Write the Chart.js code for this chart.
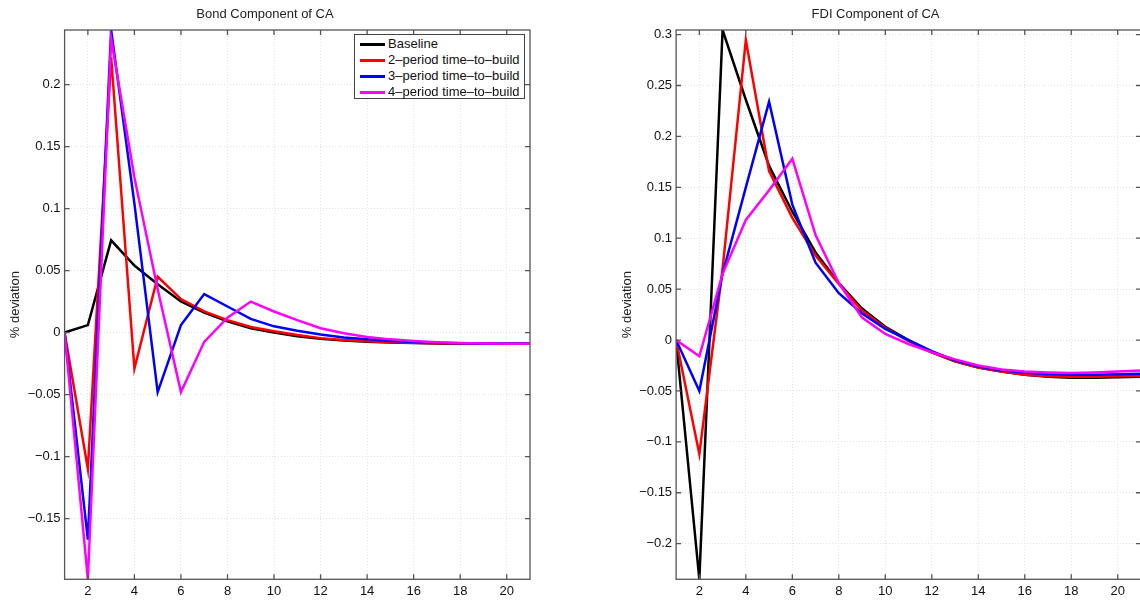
<!DOCTYPE html>
<html>
<head>
<meta charset="utf-8">
<script src="https://cdn.jsdelivr.net/npm/chart.js@4.4.1/dist/chart.umd.min.js"></script>
<style>
    body { margin: 0; width: 1140px; height: 603px; overflow: hidden; background: #fff; position: relative; font-family: "Liberation Sans", Arial, sans-serif; }
    .box { position: absolute; top: 0; height: 603px; }
    #bondBox { left: 0; width: 540px; }
    #fdiBox { left: 610px; width: 541px; }
    #legend { position: absolute; left: 354px; top: 34px; width: 171px; height: 65px; border: 1px solid #444; background: #fff; padding-top: 1px; box-sizing: border-box; }
    .row { position: relative; height: 16px; font-size: 13px; line-height: 16px; color: #111; }
    .row span.swatch { position: absolute; left: 5px; top: 7px; width: 25px; height: 2.5px; }
    .row span.label { position: absolute; left: 33px; top: 0; white-space: nowrap; }
</style>
</head>
<body>
<div class="box" id="bondBox"><canvas id="bondChart"></canvas></div>
<div class="box" id="fdiBox"><canvas id="fdiChart"></canvas></div>
<div id="legend"></div>
<script>
// periods after the shock
const periods = [1, 2, 3, 4, 5, 6, 7, 8, 9, 10, 11, 12, 13, 14, 15, 16, 17, 18, 19, 20, 21];
const xTicks = [2, 4, 6, 8, 10, 12, 14, 16, 18, 20];

const seriesNames = ['Baseline', '2\u2013period time\u2013to\u2013build', '3\u2013period time\u2013to\u2013build', '4\u2013period time\u2013to\u2013build'];
const seriesColors = ['#000000', '#ff0000', '#0000ff', '#ff00ff'];

// Bond component of CA
const bondBaseline = [0, 0.006, 0.0744, 0.054, 0.039, 0.025, 0.016, 0.009, 0.0035, 0.000, -0.003, -0.005, -0.0065, -0.0075, -0.008, -0.0085, -0.0088, -0.009, -0.009, -0.009, -0.009];
const bondTtb2 = [0, -0.110, 0.222, -0.029, 0.045, 0.027, 0.017, 0.010, 0.0045, 0.001, -0.002, -0.0045, -0.006, -0.007, -0.0078, -0.0083, -0.0087, -0.009, -0.009, -0.009, -0.009];
const bondTtb3 = [0, -0.167, 0.244, 0.104, -0.048, 0.006, 0.031, 0.021, 0.011, 0.005, 0.0015, -0.0015, -0.004, -0.0055, -0.0068, -0.0077, -0.0083, -0.0087, -0.009, -0.009, -0.009];
const bondTtb4 = [0, -0.199, 0.237, 0.125, 0.035, -0.048, -0.0075, 0.012, 0.025, 0.017, 0.010, 0.0035, -0.0005, -0.0035, -0.0055, -0.0068, -0.0078, -0.0084, -0.0088, -0.009, -0.009];
const bondTicks = [-0.15, -0.1, -0.05, 0, 0.05, 0.1, 0.15, 0.2];

// FDI component of CA
const fdiBaseline = [0, -0.235, 0.3045, 0.236, 0.171, 0.126, 0.086, 0.056, 0.031, 0.013, 0.000, -0.012, -0.021, -0.027, -0.031, -0.034, -0.036, -0.037, -0.037, -0.0365, -0.036];
const fdiTtb2 = [0, -0.112, 0.07, 0.2947, 0.166, 0.120, 0.083, 0.055, 0.029, 0.012, -0.001, -0.012, -0.021, -0.027, -0.031, -0.034, -0.0355, -0.036, -0.036, -0.0355, -0.035];
const fdiTtb3 = [0, -0.050, 0.065, 0.150, 0.234, 0.133, 0.076, 0.046, 0.026, 0.011, 0.000, -0.011, -0.020, -0.026, -0.030, -0.032, -0.0335, -0.034, -0.034, -0.0335, -0.033];
const fdiTtb4 = [0, -0.016, 0.065, 0.118, 0.147, 0.178, 0.103, 0.056, 0.022, 0.006, -0.004, -0.012, -0.019, -0.025, -0.029, -0.031, -0.032, -0.0325, -0.032, -0.031, -0.030];
const fdiTicks = [-0.2, -0.15, -0.1, -0.05, 0, 0.05, 0.1, 0.15, 0.2, 0.25, 0.3];

const FONT = '"Liberation Sans", Arial, sans-serif';
const AXIS_COLOR = '#555';
const GRID_COLOR = '#e4e4e4';

function fmt(v) {
    return String(Math.round(v * 1000) / 1000).replace('-', '\u2212');
}

// matlab style box with inward ticks
const boxPlugin = {
    id: 'box',
    afterDatasetsDraw(chart) {
        const a = chart.chartArea;
        const c = chart.ctx;
        const xs = chart.scales.x, ys = chart.scales.y;
        c.save();
        c.strokeStyle = AXIS_COLOR;
        c.lineWidth = 1.3;
        c.strokeRect(a.left, a.top, a.right - a.left, a.bottom - a.top);
        c.beginPath();
        xs.ticks.forEach(t => {
            const px = xs.getPixelForValue(t.value);
            c.moveTo(px, a.bottom); c.lineTo(px, a.bottom - 5);
            c.moveTo(px, a.top); c.lineTo(px, a.top + 5);
        });
        ys.ticks.forEach(t => {
            const py = ys.getPixelForValue(t.value);
            c.moveTo(a.left, py); c.lineTo(a.left + 5, py);
            c.moveTo(a.right, py); c.lineTo(a.right - 5, py);
        });
        c.stroke();
        c.restore();
    }
};

function makeChart(id, title, series, yMin, yMax, yTicks, yWidth, titlePad) {
    const datasets = series.map((vals, i) => ({
        label: seriesNames[i],
        data: periods.map((p, j) => ({ x: p, y: vals[j] })),
        borderColor: seriesColors[i],
        borderWidth: 2.5,
        pointRadius: 0,
        tension: 0,
        clip: 0,
        order: series.length - i
    }));
    return new Chart(document.getElementById(id), {
        type: 'line',
        data: { datasets: datasets },
        options: {
            responsive: true,
            maintainAspectRatio: false,
            animation: false,
            layout: { padding: { left: 0, right: 10, top: 0, bottom: 0 } },
            plugins: {
                legend: { display: false },
                tooltip: { enabled: false },
                title: {
                    display: true,
                    text: title,
                    color: '#222',
                    font: { family: FONT, size: 13, weight: 'normal' },
                    padding: { top: 7, bottom: 7.4 }
                }
            },
            scales: {
                x: {
                    type: 'linear',
                    min: 1,
                    max: 21,
                    afterBuildTicks: s => { s.ticks = xTicks.map(v => ({ value: v })); },
                    afterFit: s => { s.height = 23.7; },
                    grid: { color: GRID_COLOR, lineWidth: 1, drawTicks: false },
                    border: { display: false, dash: [1, 2] },
                    ticks: { color: '#111', padding: 4, font: { family: FONT, size: 13 }, maxRotation: 0, autoSkip: false, callback: v => String(v) }
                },
                y: {
                    type: 'linear',
                    min: yMin,
                    max: yMax,
                    afterBuildTicks: s => { s.ticks = yTicks.map(v => ({ value: v })); },
                    afterFit: s => { s.width = yWidth; },
                    grid: { color: GRID_COLOR, lineWidth: 1, drawTicks: false },
                    border: { display: false, dash: [1, 2] },
                    title: { display: true, text: '% deviation', color: '#222', font: { family: FONT, size: 13 }, padding: { top: titlePad, bottom: 0 } },
                    ticks: { color: '#111', padding: 4, font: { family: FONT, size: 13 }, autoSkip: false, callback: v => fmt(v) }
                }
            }
        },
        plugins: [boxPlugin]
    });
}

makeChart('bondChart', 'Bond Component of CA', [bondBaseline, bondTtb2, bondTtb3, bondTtb4], -0.199, 0.244, bondTicks, 64.6, 8);
makeChart('fdiChart', 'FDI Component of CA', [fdiBaseline, fdiTtb2, fdiTtb3, fdiTtb4], -0.235, 0.3045, fdiTicks, 66.1, 10);

// legend for the bond panel
const legend = document.getElementById('legend');
seriesNames.forEach((name, i) => {
    const row = document.createElement('div');
    row.className = 'row';
    const sw = document.createElement('span');
    sw.className = 'swatch';
    sw.style.background = seriesColors[i];
    const lb = document.createElement('span');
    lb.className = 'label';
    lb.textContent = name;
    row.appendChild(sw);
    row.appendChild(lb);
    legend.appendChild(row);
});
</script>
</body>
</html>
